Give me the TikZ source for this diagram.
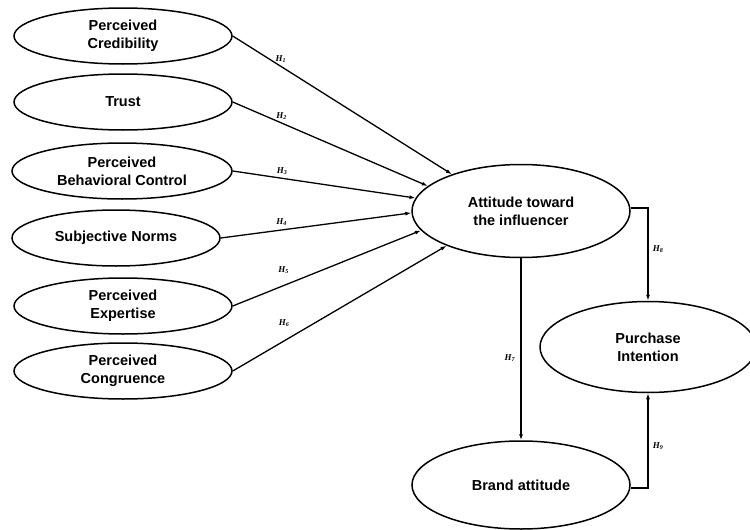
\documentclass[tikz,border=0pt]{standalone}
\usepackage{fontspec}
\setmainfont{Liberation Sans}
\newfontfamily\hypfont{Liberation Serif}
\usetikzlibrary{shapes.geometric, arrows.meta}

\tikzset{
  construct/.style={ellipse, draw, line width=1.5pt, inner sep=0pt,
    minimum width=218, minimum height=56, align=center,
    font=\fontsize{14.5}{18}\selectfont\bfseries},
  path/.style={-{Latex[length=6pt,width=4pt]}, line width=1.3pt},
  hyp/.style={font=\hypfont\fontsize{9}{9}\selectfont\bfseries\itshape}
}
\newcommand{\hyp}[1]{H\textsubscript{#1}}

\begin{document}
\begin{tikzpicture}[x=1pt, y=-1pt]
	\useasboundingbox (0,0) rectangle (750,530);

	% Drawing the antecedents
	\node[construct] (cred) at (123,36) {Perceived\\Credibility};
	\node[construct] (trust) at (123,102) {Trust};
	\node[construct, minimum width=220] (pbc) at (122,171) {Perceived\\Behavioral Control};
	\node[construct, minimum width=208] (norms) at (116,238) {Subjective Norms};
	\node[construct] (exp) at (123,306) {Perceived\\Expertise};
	\node[construct] (cong) at (123,371) {Perceived\\Congruence};

	% Drawing the outcomes
	\node[construct, minimum height=93] (att) at (521,211) {Attitude toward\\the influencer};
	\node[construct, minimum width=216, minimum height=91] (pi) at (648,347) {Purchase\\Intention};
	\node[construct, minimum height=88] (brand) at (521,485) {Brand attitude};

	% Drawing the paths and labels
	\draw[path] (cred.east) -- (att.152) node[pos=0.22, above, hyp] {\hyp{1}};
	\draw[path] (trust.east) -- (att.165) node[pos=0.25, above, hyp] {\hyp{2}};
	\draw[path] (pbc.east) -- (att.173) node[pos=0.27, above, hyp] {\hyp{3}};
	\draw[path] (norms.east) -- (att.181) node[pos=0.32, above, hyp] {\hyp{4}};
	\draw[path] (exp.east) -- (att.191) node[pos=0.27, above, yshift=8, hyp] {\hyp{5}};
	\draw[path] (cong.east) -- (att.205) node[pos=0.24, above, yshift=10, hyp] {\hyp{6}};
	\draw[path] (att.south) -- (brand.north) node[pos=0.55, left, xshift=-2, hyp] {\hyp{7}};
	\draw[path] ([yshift=3]att.east) -| (pi.north) node[pos=0.72, right, xshift=1, hyp] {\hyp{8}};
	\draw[path] ([yshift=-3]brand.east) -| (pi.south) node[pos=0.72, right, xshift=1, hyp] {\hyp{9}};
\end{tikzpicture}
\end{document}
